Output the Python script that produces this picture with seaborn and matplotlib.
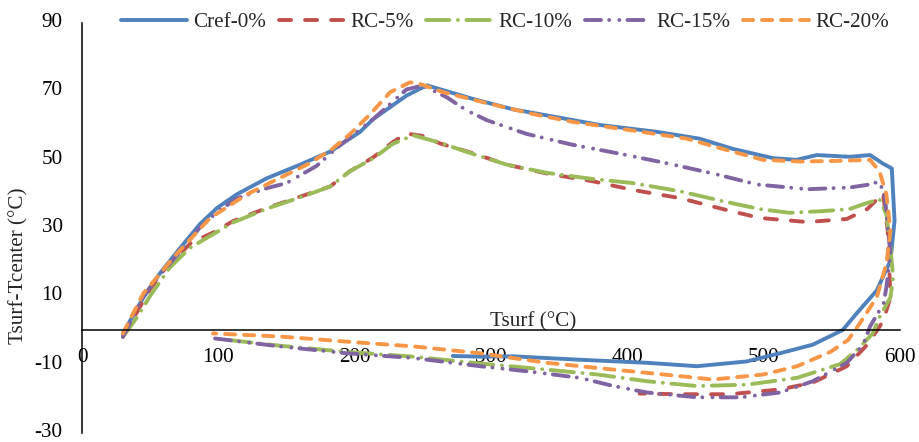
import numpy as np
import pandas as pd
import matplotlib
matplotlib.use("Agg")
import matplotlib.pyplot as plt
import seaborn as sns

# ---- data: heating branch then cooling branch ----
series_names = ["Cref-0%", "RC-5%", "RC-10%", "RC-15%", "RC-20%"]

cref_x = [30, 45, 57, 72, 86.5, 99, 113.5, 135.5, 160, 182, 204, 213.5, 238, 253, 287, 316, 348, 380,
          421.6, 453, 477.5, 507, 524, 539, 563, 578, 587.5, 594, 596,
          593, 583, 568.5, 558, 536, 512, 487.6, 451, 414.5, 365, 316, 292, 272]
cref_y = [-1, 9.5, 16.5, 24, 31, 35.7, 39.7, 44.4, 48.4, 52.2, 58, 61.7, 68.6, 71.6, 67.6, 64.6, 62.3, 60,
          58, 56, 53, 50.3, 49.8, 51.2, 50.7, 51.2, 48.7, 47.3, 32,
          20.3, 11.6, 5, 0, -4.3, -6.8, -9.2, -10.6, -9.6, -8.7, -7.7, -7.8, -7.6]

rc5_x = [30, 40, 50, 62, 80, 96, 111, 135.5, 165, 182, 196.6, 213.5, 228, 238, 250, 262.6, 287, 311.5,
         341, 375, 404, 438.6, 470, 497, 532, 561, 576, 587.6,
         591, 593, 588, 585, 576, 561, 536, 512, 475, 439, 409]
rc5_y = [-2, 5, 12, 18.5, 25.5, 28.5, 31.9, 35.7, 39.7, 42, 46.5, 50.5, 55, 57.5, 56.8, 54.6, 51.7, 48.4,
         45.8, 43.5, 41, 38.6, 35.4, 32.8, 31.6, 32.5, 35.4, 40,
         29, 9.6, 3, 1, -4.3, -10.6, -15.4, -17.4, -18.8, -18.8, -18.6]

rc10_x = [30, 40, 50, 64.5, 79, 96, 111, 135.5, 165, 182, 196.6, 213.5, 228, 243, 262.6, 287, 311.5,
          341, 372.6, 404, 438.6, 470, 497, 519, 543.6, 563, 573, 585,
          590, 593, 595, 593, 585, 580, 568.6, 556, 524.5, 487.6, 451, 414.5, 377.6, 341, 292,
          243, 194, 145, 96]
rc10_y = [-2, 3.5, 10, 18.3, 24, 28, 31.5, 35.5, 39.5, 42, 46.5, 50.2, 54.5, 57, 54.8, 51.5, 48.4,
          46, 44.3, 43, 40.6, 37.7, 35.4, 34.3, 34.8, 35.4, 36.8, 38.3,
          33.9, 24, 15.4, 9.6, 3.8, -1, -5.8, -10, -14, -16, -16.4, -15, -13, -11.6, -9.8,
          -7.8, -6.4, -4.6, -2.4]

rc15_x = [30, 45, 57, 72, 86.5, 99, 113.5, 135.5, 150, 172, 189, 213.5, 238, 250, 268, 282, 297, 326,
          360, 394.6, 429, 463, 495, 532, 563, 578, 585,
          589, 591, 593, 590, 588, 578, 573, 561, 536, 512, 483, 451, 414.5, 390, 365, 329, 292,
          243, 194, 145, 96, 93]
rc15_y = [-2, 10, 16, 23, 30, 34.5, 38.5, 41.5, 43, 48, 54, 61.7, 70.4, 71.6, 68, 64.3, 61.4, 57.4,
          54.2, 51.6, 48.8, 45.8, 42.6, 41.2, 41.7, 42.6, 43.5,
          38.6, 30, 22.3, 12.5, 7.8, 1, -4.3, -9.6, -15, -18.3, -19.7, -19.7, -18.3, -16.4, -14, -12.2, -10.6,
          -8.2, -6.8, -4.8, -2.4, -2.2]

rc20_x = [30, 45, 69.5, 94, 121, 140, 165, 182, 197, 211, 226, 240.6, 248, 265, 294, 331, 360, 402,
          443.6, 470, 499.5, 527, 554, 578, 585, 590, 593,
          590, 583, 570.6, 562, 549, 524.5, 500, 463, 426, 390, 341, 316, 292, 243, 194, 145, 96]
rc20_y = [-1, 10.7, 22.3, 32.8, 39.7, 43.5, 48.4, 52.5, 57.5, 63, 69.6, 72.5, 72, 69.6, 66.7, 63.2, 60.9, 58.5,
          56, 53, 49.8, 49.3, 49.5, 49.8, 46.4, 39.7, 29,
          19.4, 9.6, 2, -2.9, -6.4, -10.6, -13, -14.5, -13, -11.6, -9.6, -8.2, -6.8, -4.8, -3.4, -1.9, -1]

x_ticks = [0, 100, 200, 300, 400, 500, 600]
y_ticks = [-30, -10, 10, 30, 50, 70, 90]
x_title = "Tsurf (°C)"
y_title = "Tsurf-Tcenter (°C)"

# ---- styling ----
colors = {"Cref-0%": "#4F81BD", "RC-5%": "#C0504D", "RC-10%": "#9BBB59",
          "RC-15%": "#8064A2", "RC-20%": "#F79646"}
styles = {"Cref-0%": "-",
          "RC-5%": (0, (3.1, 3.6)),
          "RC-10%": (0, (6, 2.2, 0.01, 2.2)),
          "RC-15%": (0, (4.1, 2.1, 0.01, 2.6, 0.01, 2.1)),
          "RC-20%": (0, (2.6, 2.3))}

frames = []
for name, xs, ys in zip(series_names,
                        [cref_x, rc5_x, rc10_x, rc15_x, rc20_x],
                        [cref_y, rc5_y, rc10_y, rc15_y, rc20_y]):
    frames.append(pd.DataFrame({"series": name, "Tsurf": xs, "dT": ys, "order": range(len(xs))}))
df = pd.concat(frames, ignore_index=True)

sns.set_style("white")
plt.rcParams["font.family"] = ["Liberation Serif", "DejaVu Serif"]
FS = 15.2

fig = plt.figure(figsize=(9.19, 4.42), dpi=100)
ax = fig.add_axes([82 / 919, 9.5 / 442, 818 / 919, 410 / 442])

for name in series_names:
    sub = df[df["series"] == name].sort_values("order")
    sns.lineplot(data=sub, x="Tsurf", y="dT", sort=False, estimator=None, ax=ax,
                 color=colors[name], linewidth=2.8, linestyle=styles[name],
                 dash_capstyle="round", solid_capstyle="round", label=name)

for s in ["top", "right"]:
    ax.spines[s].set_visible(False)
ax.spines["bottom"].set_position(("data", 0))
ax.spines["bottom"].set_color("black")
ax.spines["bottom"].set_linewidth(1.1)
ax.spines["left"].set_color("black")
ax.spines["left"].set_linewidth(1.1)
ax.grid(False)

ax.set_xlim(0, 600)
ax.set_ylim(-30, 90)
ax.set_xticks(x_ticks)
ax.set_yticks(y_ticks)
ax.set_xticklabels([str(v) for v in x_ticks])
ax.set_yticklabels([str(v) for v in y_ticks])
ax.tick_params(axis="both", labelsize=FS, labelcolor="black", length=0)
ax.tick_params(axis="x", pad=13)
ax.tick_params(axis="y", pad=14)
for t in ax.get_yticklabels():
    t.set_va("center")

ax.set_xlabel(x_title, fontsize=FS)
ax.xaxis.label.set_va("baseline")
ax.xaxis.set_label_coords(0.551, 0.259)
ax.set_ylabel(y_title, fontsize=FS)
ax.yaxis.label.set_va("center")
ax.yaxis.set_label_coords(-0.0776, 0.406)

handles, labels = ax.get_legend_handles_labels()
ax.get_legend().remove()
fig.legend(handles, labels, loc="center", bbox_to_anchor=(0.5495, 0.950), ncol=5,
           frameon=False, fontsize=FS, handlelength=3.1, handletextpad=0.3,
           columnspacing=0.6)

fig.savefig("out.png", dpi=100)
